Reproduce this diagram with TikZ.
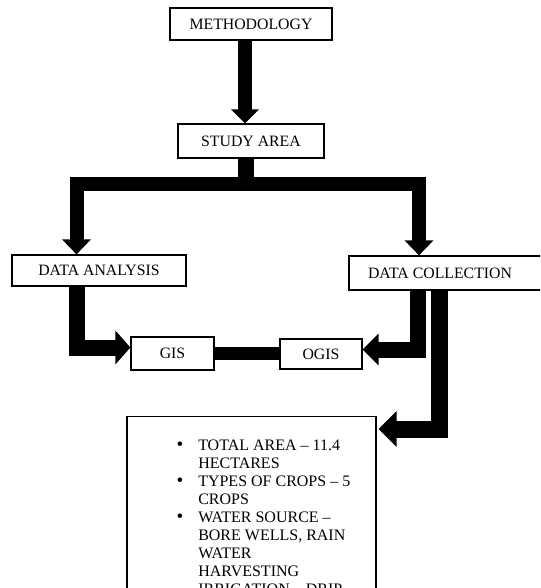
\documentclass[tikz,border=0pt]{standalone}
\usepackage{fontspec}
\setmainfont{Liberation Serif}
\usetikzlibrary{arrows.meta}

\newcommand{\listdot}{{\fontsize{19}{18}\selectfont\textbullet}}

\begin{document}
\begin{tikzpicture}[x=1pt, y=-1pt, box/.style={draw=black, line width=1.2pt, fill=white, inner sep=0pt, font=\fontsize{15.8}{18}\selectfont}, fatline/.style={line width=15pt, line join=miter}, fatarrow/.style={fatline, -{Triangle[width=29pt,length=15pt]}}]
\useasboundingbox (0,0) rectangle (540,588);
\clip (0,0) rectangle (540,588);
\node[box, minimum width=162pt, minimum height=32pt] (method) at (251,24) {METHODOLOGY};
\node[box, minimum width=146pt, minimum height=34pt] (study) at (251,141) {STUDY AREA};
\node[box, minimum width=174pt, minimum height=31pt] (analysis) at (99,270.5) {DATA ANALYSIS};
\node[box, minimum width=196pt, minimum height=34pt] (collection) at (447,273) {DATA COLLECTION\hspace*{14pt}};
\node[box, minimum width=83pt, minimum height=33pt] (gis) at (172.5,353.5) {GIS};
\node[box, minimum width=82pt, minimum height=30pt] (ogis) at (321,354) {OGIS};
\node[box, minimum width=249pt, minimum height=230pt, anchor=north] (facts) at (251.5,416) {};
\node[anchor=north west, inner sep=0pt, font=\fontsize{16}{18}\selectfont] (factlist) at ([xshift=50pt, yshift=-22pt]facts.north west) {\begin{tabular}{@{}l@{\hspace{15pt}}l@{}}
\listdot & TOTAL AREA – 11.4\\
 & HECTARES\\
\listdot & TYPES OF CROPS – 5\\
 & CROPS\\
\listdot & WATER SOURCE –\\
 & BORE WELLS, RAIN\\
 & WATER\\
 & HARVESTING\\
 & IRRIGATION – DRIP
\end{tabular}};

\coordinate (fork) at (245.5,184);
\coordinate (acol) at (76.5,0);
\coordinate (ccol) at (419,0);
\coordinate (ocol) at (418,0);
\coordinate (fcol) at (439.5,0);

\draw[fatarrow, line width=14pt, -{Triangle[width=27pt,length=14pt]}] ([xshift=-6pt]method.south) -- ([xshift=-6pt]study.north);
\draw[fatline, line width=16pt] (study.south -| fork) -- (fork);
\draw[fatline, line width=14pt, {Triangle[width=28pt,length=15pt]}-{Triangle[width=28pt,length=15pt]}] (analysis.north -| acol) |- (fork) -| (collection.north -| ccol);
\draw[fatarrow, line width=16pt, -{Triangle[width=33pt,length=15pt]}] (analysis.south -| acol) |- ([yshift=6pt]gis.west);
\draw[fatline, line width=13pt] (gis.east) -- (gis.east -| ogis.west);
\draw[fatarrow, line width=16pt, -{Triangle[width=31pt,length=16pt]}] (collection.south -| ocol) |- ([yshift=4.5pt]ogis.east);
\draw[fatarrow, line width=17pt, -{Triangle[width=35pt,length=18pt]}] (collection.south -| fcol) |- ([yshift=-13pt, xshift=2pt]facts.north east);
\end{tikzpicture}
\end{document}
